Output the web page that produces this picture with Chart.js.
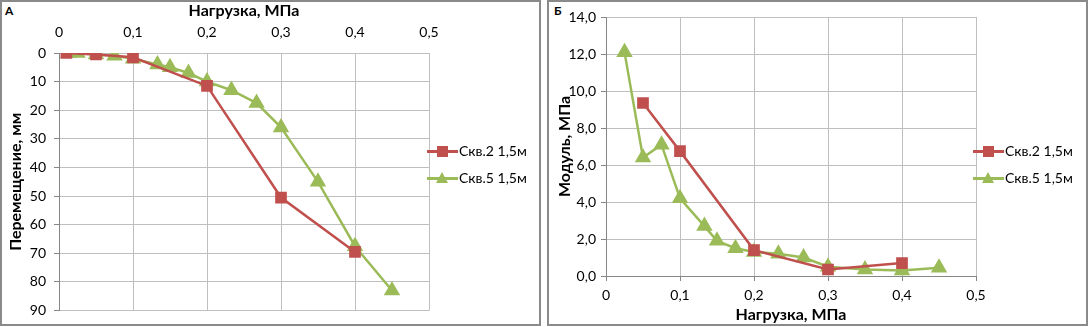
<!DOCTYPE html>
<html>
<head>
<meta charset="utf-8">
<script src="https://cdn.jsdelivr.net/npm/chart.js@4"></script>
<style>
    body { margin: 0; background: #fff; font-family: Lato, "Open Sans", sans-serif; }
    .panel { position: absolute; top: 0; height: 322px; border: 2px solid #8a8a8a; background: #fff; }
    .lbl { position: absolute; top: 3px; font-size: 12px; font-weight: bold; color: #000; }
    canvas { position: absolute; top: 0; }
    .legend { position: absolute; font-size: 14px; color: #000; }
    .legend div { position: relative; height: 27px; line-height: 16px; padding-left: 32px; white-space: nowrap; }
    .legend i { position: absolute; left: 0; top: 7px; width: 31px; height: 3px; }
    .legend b { position: absolute; left: 10px; top: 3px; width: 11px; height: 11px; }
    .legend b.tri { width: 0; height: 0; left: 9px; top: 2px; border-left: 6px solid transparent; border-right: 6px solid transparent; border-bottom: 11px solid; background: none !important; }
</style>
</head>
<body>
<div class="panel" style="left:0; width:537px;"></div>
<div class="panel" style="left:547px; width:537px;"></div>
<div class="lbl" style="left:5px;">А</div>
<div class="lbl" style="left:554px;">Б</div>
<canvas id="chartA" width="540" height="327" style="left:0;"></canvas>
<canvas id="chartB" width="540" height="327" style="left:547px;"></canvas>
<div class="legend" style="left:427px; top:143px;">
    <div><i style="background:#C0504D"></i><b style="background:#C0504D"></b>Скв.2 1,5м</div>
    <div><i style="background:#9BBB59"></i><b class="tri" style="border-bottom-color:#9BBB59"></b>Скв.5 1,5м</div>
</div>
<div class="legend" style="left:973px; top:143px;">
    <div><i style="background:#C0504D"></i><b style="background:#C0504D"></b>Скв.2 1,5м</div>
    <div><i style="background:#9BBB59"></i><b class="tri" style="border-bottom-color:#9BBB59"></b>Скв.5 1,5м</div>
</div>
<script>
// load, MPa
const loadSkv2 = [0.01, 0.05, 0.1, 0.2, 0.3, 0.4];
const loadSkv5 = [0.0125, 0.025, 0.05, 0.075, 0.1, 0.133, 0.15, 0.175, 0.2, 0.233, 0.267, 0.3, 0.35, 0.4, 0.45];
// displacement, mm (panel A)
const dispSkv2 = [0, 0.5, 1.5, 11.5, 50.5, 69.5];
const dispSkv5 = [0, 0, 0.5, 1, 2, 4, 5, 7, 10, 13, 17.5, 26, 45, 67.5, 83];
// modulus, MPa (panel B)
const modLoadSkv2 = [0.05, 0.1, 0.2, 0.3, 0.4];
const modSkv2 = [9.35, 6.75, 1.4, 0.35, 0.7];
const modLoadSkv5 = [0.025, 0.05, 0.075, 0.1, 0.133, 0.15, 0.175, 0.2, 0.233, 0.267, 0.3, 0.35, 0.4, 0.45];
const modSkv5 = [12.1, 6.4, 7.1, 4.2, 2.7, 1.9, 1.5, 1.3, 1.2, 1.0, 0.5, 0.35, 0.3, 0.45];

const seriesNames = ['Скв.2 1,5м', 'Скв.5 1,5м'];
const RED = '#C0504D', GREEN = '#9BBB59';
const GRID = '#BFBFBF', AXIS = '#868686';
const FONT = 'Lato, "Open Sans", sans-serif';
const tickFont = { family: FONT, size: 14 };
const titleFont = { family: FONT, size: 16, weight: 'bold' };

const toPoints = (xs, ys) => xs.map((x, i) => ({ x: x, y: ys[i] }));
const comma = (v, d) => v.toFixed(d).replace('.', ',');
const loadTick = v => v === 0 ? '0' : comma(v, 1);

function makeDatasets(xs2, ys2, xs5, ys5) {
    return [
        { label: seriesNames[0], data: toPoints(xs2, ys2), borderColor: RED, backgroundColor: RED,
          pointStyle: 'rect', pointRadius: 6.5, borderWidth: 2.5, showLine: true, tension: 0 },
        { label: seriesNames[1], data: toPoints(xs5, ys5), borderColor: GREEN, backgroundColor: GREEN,
          pointStyle: 'triangle', pointRadius: 7, borderWidth: 2.5, showLine: true, tension: 0 }
    ];
}

const baseOpts = {
    responsive: false,
    animation: false,
    plugins: { legend: { display: false }, tooltip: { enabled: false } }
};

// Panel A: displacement vs load, x axis on top, y reversed
new Chart(document.getElementById('chartA'), {
    type: 'scatter',
    data: { datasets: makeDatasets(loadSkv2, dispSkv2, loadSkv5, dispSkv5) },
    options: Object.assign({}, baseOpts, {
        layout: { padding: { left: 6, right: 111, top: 1, bottom: 16 } },
        scales: {
            x: {
                position: 'top', min: 0, max: 0.5,
                afterFit: s => { s.height = 52; },
                ticks: { stepSize: 0.1, callback: loadTick, color: '#000', font: tickFont, padding: 12, maxRotation: 0 },
                grid: { color: GRID, tickLength: 0 },
                border: { color: GRID },
                title: { display: true, text: 'Нагрузка, МПа', color: '#000', font: titleFont, padding: { top: 0, bottom: 0 } }
            },
            y: {
                reverse: true, min: 0, max: 90,
                afterFit: s => { s.width = 53; },
                ticks: { stepSize: 10, color: '#000', font: tickFont, padding: 8 },
                grid: { color: GRID, tickLength: 5, tickColor: AXIS },
                border: { color: AXIS },
                title: { display: true, text: 'Перемещение, мм', color: '#000', font: titleFont, padding: 0 }
            }
        }
    })
});

// Panel B: modulus vs load
new Chart(document.getElementById('chartB'), {
    type: 'scatter',
    data: { datasets: makeDatasets(modLoadSkv2, modSkv2, modLoadSkv5, modSkv5) },
    options: Object.assign({}, baseOpts, {
        layout: { padding: { left: 8, right: 111, top: 17, bottom: 3 } },
        scales: {
            x: {
                min: 0, max: 0.5,
                afterFit: s => { s.height = 48; },
                ticks: { stepSize: 0.1, callback: loadTick, color: '#000', font: tickFont, padding: 6, maxRotation: 0 },
                grid: { color: GRID, tickLength: 5, tickColor: AXIS },
                border: { color: AXIS },
                title: { display: true, text: 'Нагрузка, МПа', color: '#000', font: titleFont, padding: 0 }
            },
            y: {
                min: 0, max: 14,
                afterFit: s => { s.width = 51; },
                ticks: { stepSize: 2, callback: v => comma(v, 1), color: '#000', font: tickFont, padding: 5 },
                grid: { color: GRID, tickLength: 5, tickColor: AXIS },
                border: { color: AXIS },
                title: { display: true, text: 'Модуль, МПа', color: '#000', font: titleFont, padding: 0 }
            }
        }
    })
});
</script>
</body>
</html>
